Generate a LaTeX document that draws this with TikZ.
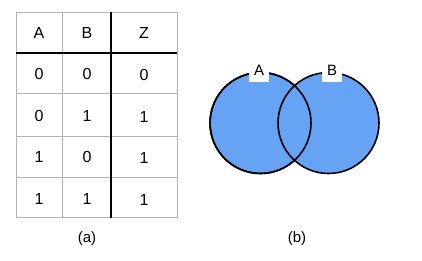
\documentclass[tikz,border=0pt]{standalone}
\usepackage{fontspec}
\setmainfont{Liberation Sans}
\definecolor{vennblu}{HTML}{66A3F4}
\definecolor{grigio}{HTML}{B4B4B4}
\begin{document}
\begin{tikzpicture}[
    x=1pt, y=-1pt,
    cella/.style={
        inner sep=0pt,
        font=\fontsize{16}{18}\selectfont
    },
    griglia/.style={
        draw=grigio,
        line width=1pt
    },
    spessa/.style={
        draw=black,
        line width=2pt
    },
    insieme/.style={
        draw=black,
        line width=1.6pt,
        fill=vennblu
    },
    etichetta/.style={
        fill=white,
        inner sep=0pt,
        minimum width=20pt,
        minimum height=20pt,
        font=\fontsize{15}{17}\selectfont
    },
    didascalia/.style={
        inner sep=0pt,
        font=\fontsize{15}{17}\selectfont
    }
]
    \useasboundingbox (0,0) rectangle (422,261);

    % Griglia della tabella
    \foreach \yy in {12.5,94,137,178,218}
        \draw[griglia] (16,\yy) -- (177,\yy);
    \foreach \xx in {16,62,177}
        \draw[griglia] (\xx,12.5) -- (\xx,218);
    \draw[spessa] (16,53) -- (177,53);
    \draw[spessa] (111,12) -- (111,218);

    % Intestazione
    \node[cella] (hA) at (39,33) {A};
    \node[cella] (hB) at (87,33) {B};
    \node[cella] (hZ) at (144,33) {Z};

    % Righe della tabella
    \foreach \a/\b/\z [count=\r] in {0/0/0, 0/1/1, 1/0/1, 1/1/1} {
        \pgfmathsetmacro{\yy}{74+41.5*(\r-1)}
        \node[cella] (a\r) at (39,\yy) {\a};
        \node[cella] (b\r) at (87,\yy) {\b};
        \node[cella] (z\r) at (144,\yy+1) {\z};
    }

    \node[didascalia] (capA) at (87,239) {(a)};

    % Diagramma di Venn
    \draw[insieme] (260.5,123) circle (50.5);
    \draw[insieme] (328.5,123) circle (50.5);
    \draw[draw=black, line width=1.6pt] (260.5,123) circle (50.5);

    \node[etichetta] (setA) at (259,72) {\raisebox{3pt}{A}};
    \node[etichetta] (setB) at (332,72) {\raisebox{3pt}{B}};

    \node[didascalia] (capB) at (297,239) {(b)};

\end{tikzpicture}
\end{document}
